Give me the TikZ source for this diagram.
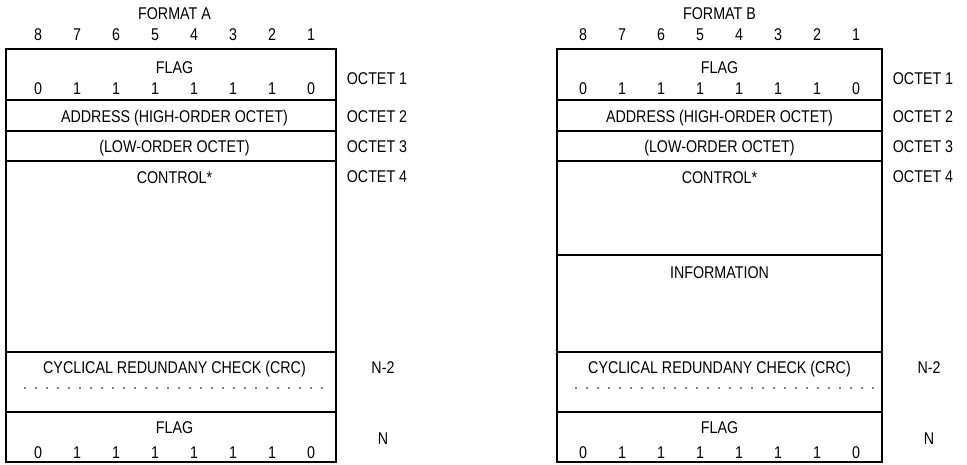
\documentclass[tikz,border=0pt]{standalone}
\usepackage{fontspec}
\setmainfont[FakeStretch=0.84]{Liberation Sans}
\usetikzlibrary{positioning}

\begin{document}
\begin{tikzpicture}[x=1pt, y=-1pt,
    every node/.style={inner sep=0pt, text height=12.2pt, text depth=0pt,
        font=\fontsize{17}{20}\selectfont},
    frame/.style={line width=1.4pt},
    dots/.style={line width=1.8pt, dash pattern=on 0pt off 11pt, line cap=round}]
    \useasboundingbox (0,0) rectangle (967,465);

    \foreach \f/\lx/\rx/\bx in {A/6/336/38, B/557/882/583} {
        % frame and field borders
        \draw[frame] (\lx,49) rectangle (\rx,462);
        \foreach \yy in {100,131,161,352,412}
            \draw[frame] (\lx,\yy) -- (\rx,\yy);
        \draw[dots] (\lx+19,388) -- (\rx-5,388);

        % heading and bit numbers
        \node (fmt\f) at (\bx+136.5,13) {FORMAT \f};
        \foreach \v [count=\i from 0] in {8,...,1}
            \node (hd\f\v) at (\bx+39*\i,34) {\v};

        % flag pattern 01111110, opening and closing
        \node (flagtop\f) at (\bx+136.5,67) {FLAG};
        \node (flagbot\f) at (\bx+136.5,427) {FLAG};
        \foreach \v [count=\i from 0] in {0,1,1,1,1,1,1,0} {
            \node (top\f\i) at (\bx+39*\i,88) {\v};
            \node (bot\f\i) at (\bx+39*\i,452) {\v};
        }

        % fields
        \node (addr\f) at (\bx+136.5,116) {ADDRESS (HIGH-ORDER OCTET)};
        \node (low\f) at (\bx+136.5,146) {(LOW-ORDER OCTET)};
        \node (ctrl\f) at (\bx+136.5,177) {CONTROL*};
        \node (crc\f) at (\bx+136.5,367) {CYCLICAL REDUNDANY CHECK (CRC)};

        % octet numbers on the right
        \node (octa\f) at (\rx+41,78) {OCTET 1};
        \node (octb\f) at (\rx+41,116) {OCTET 2};
        \node (octc\f) at (\rx+41,146) {OCTET 3};
        \node (octd\f) at (\rx+41,176) {OCTET 4};
        \node (nmin\f) at (\rx+47,367) {N-2};
        \node (nn\f) at (\rx+47,438) {N};
    }

    % only format B carries an information field
    \draw[frame] (557,255) -- (882,255);
    \node (infoB) at (719.5,272) {INFORMATION};
\end{tikzpicture}
\end{document}
